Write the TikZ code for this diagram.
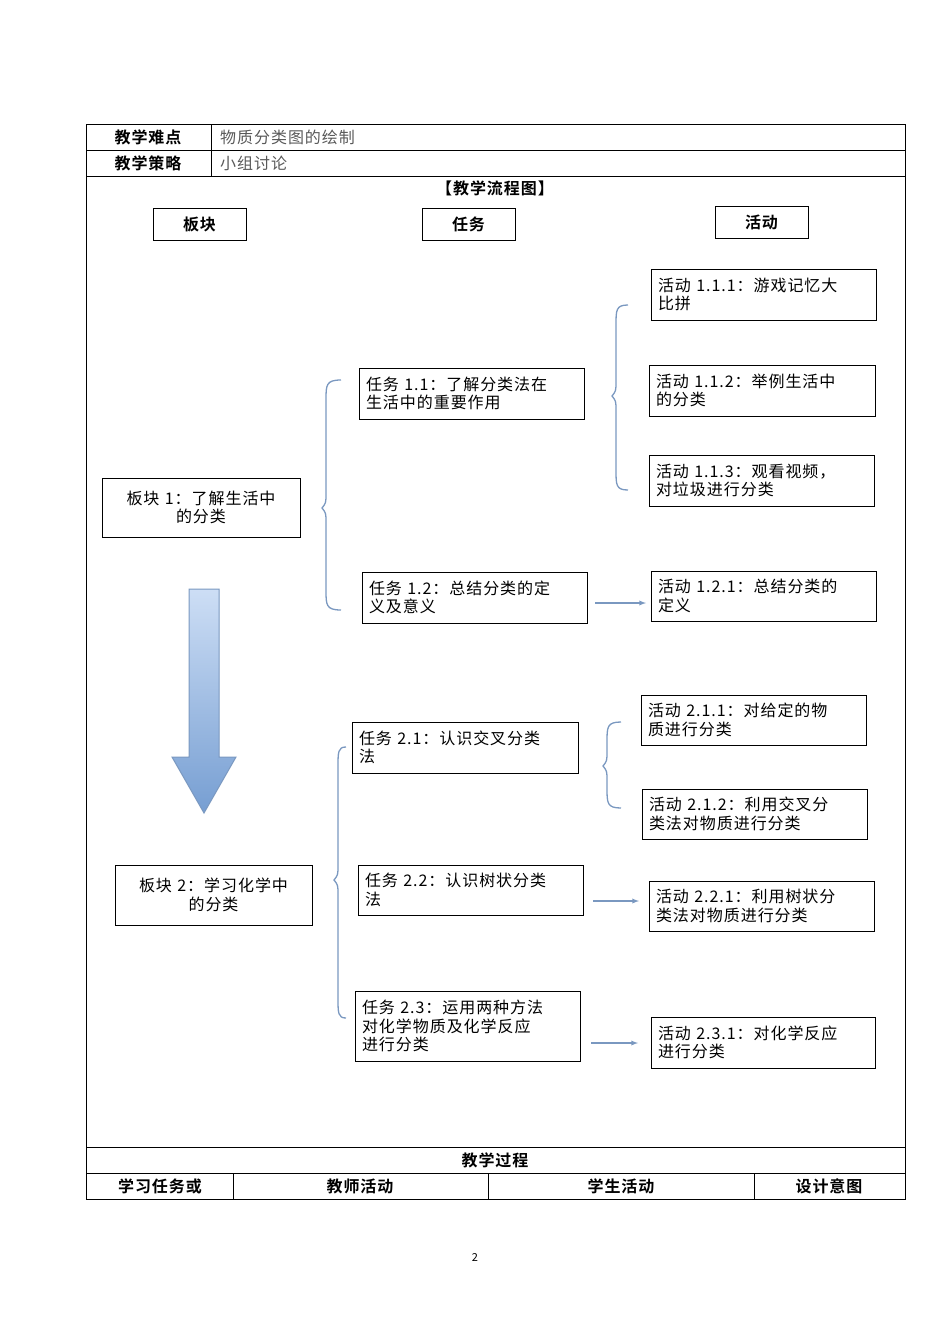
\documentclass[tikz,border=0pt]{standalone}
\usepackage{fontspec}
\setmainfont{Noto Sans CJK SC}[LetterSpace=6,BoldFont={Noto Sans CJK SC Bold}]
\definecolor{brc}{RGB}{122,152,192}
\definecolor{artop}{RGB}{205,222,245}
\definecolor{arbot}{RGB}{118,158,210}
\begin{document}
\begin{tikzpicture}[x=1pt,y=-1pt,
  bx/.style={draw,line width=0.9pt,inner xsep=7pt,inner ysep=3pt,align=left,font=\fontsize{16pt}{18.5pt}\selectfont},
  hd/.style={draw,line width=0.9pt,minimum width=93pt,minimum height=32pt,font=\fontsize{16pt}{18pt}\selectfont\bfseries},
  br/.style={draw=brc,line width=1.3pt},
  ar/.style={draw=brc,line width=1.3pt,-latex},
  tx/.style={font=\fontsize{16pt}{18pt}\selectfont,inner sep=0pt}]
\useasboundingbox (0,0) rectangle (950,1344);
% table
\draw[line width=0.8pt] (86,124) rectangle (905,1199);
\foreach \y in {150,176,1147,1173} \draw[line width=0.8pt] (86,\y)--(905,\y);
\draw[line width=0.8pt] (211,124)--(211,176);
\foreach \x in {233,488,754} \draw[line width=0.8pt] (\x,1173)--(\x,1199);
\node[tx,font=\fontsize{16pt}{18pt}\selectfont\bfseries] (r1a) at (148,137) {教学难点};
\node[tx,anchor=west,text=black!65] (r1b) at (220,137) {物质分类图的绘制};
\node[tx,font=\fontsize{16pt}{18pt}\selectfont\bfseries] (r2a) at (148,163) {教学策略};
\node[tx,anchor=west,text=black!65] (r2b) at (220,163) {小组讨论};
\node[tx,font=\fontsize{16pt}{18pt}\selectfont\bfseries] (title) at (495,188) {【教学流程图】};
\node[tx,font=\fontsize{16pt}{18pt}\selectfont\bfseries] (gc) at (495,1160) {教学过程};
\node[tx,font=\fontsize{16pt}{18pt}\selectfont\bfseries] (c1) at (160,1186) {学习任务或};
\node[tx,font=\fontsize{16pt}{18pt}\selectfont\bfseries] (c2) at (360,1186) {教师活动};
\node[tx,font=\fontsize{16pt}{18pt}\selectfont\bfseries] (c3) at (621,1186) {学生活动};
\node[tx,font=\fontsize{16pt}{18pt}\selectfont\bfseries] (c4) at (829,1186) {设计意图};
\node[tx] (pg) at (475,1257) {\fontsize{11pt}{12pt}\selectfont 2};
% headers
\node[hd] (h1) at (199.5,224.5) {板块};
\node[hd] (h2) at (468.5,224) {任务};
\node[hd] (h3) at (761.5,222) {活动};
\newcommand\bbox[6]{\node[bx,minimum width=#3pt,minimum height=#4pt,text width=#5pt] (#1) at (#2) {#6};}
\bbox{a111}{763.5,294.5}{225}{51}{211}{活动 1.1.1：游戏记忆大\\比拼}
\bbox{t11}{471.5,393.5}{225}{51}{211}{任务 1.1：了解分类法在\\生活中的重要作用}
\bbox{a112}{762,390.5}{226}{51}{212}{活动 1.1.2：举例生活中\\的分类}
\bbox{a113}{761.5,480.5}{225}{51}{211}{活动 1.1.3：观看视频，\\对垃圾进行分类}
\node[bx,minimum width=198pt,minimum height=59pt,text width=184pt,align=center] (b1) at (201,507.5) {板块 1：了解生活中\\的分类};
\bbox{t12}{474.5,597.5}{225}{51}{211}{任务 1.2：总结分类的定\\义及意义}
\bbox{a121}{763.5,596}{225}{50}{211}{活动 1.2.1：总结分类的\\定义}
\bbox{a211}{753.5,720}{225}{50}{211}{活动 2.1.1：对给定的物\\质进行分类}
\bbox{t21}{465,747.5}{226}{51}{212}{任务 2.1：认识交叉分类\\法}
\bbox{a212}{754.5,814}{225}{50}{211}{活动 2.1.2：利用交叉分\\类法对物质进行分类}
\node[bx,minimum width=197pt,minimum height=60pt,text width=183pt,align=center] (b2) at (213.5,895) {板块 2：学习化学中\\的分类};
\bbox{t22}{470.5,890}{225}{50}{211}{任务 2.2：认识树状分类\\法}
\bbox{a221}{761.5,906}{225}{50}{211}{活动 2.2.1：利用树状分\\类法对物质进行分类}
\bbox{t23}{467.5,1026}{225}{70}{211}{任务 2.3：运用两种方法\\对化学物质及化学反应\\进行分类}
\bbox{a231}{763,1042.5}{224}{51}{210}{活动 2.3.1：对化学反应\\进行分类}
% arrows
\coordinate (p1) at (595,603); \coordinate (q1) at (646,603);
\coordinate (p2) at (593,901); \coordinate (q2) at (639,901);
\coordinate (p3) at (591,1043); \coordinate (q3) at (638,1043);
\draw[ar] (p1) -- (q1);
\draw[ar] (p2) -- (q2);
\draw[ar] (p3) -- (q3);
% braces
\newcommand\mybrace[5]{\draw[br] (#2,#3) .. controls (#1+4,#3) and (#1+4,#3+5) .. (#1+4,#3+20) -- (#1+4,#4-15) .. controls (#1+4,#4-5) .. (#1,#4) .. controls (#1+4,#4+5) .. (#1+4,#4+15) -- (#1+4,#5-20) .. controls (#1+4,#5-5) and (#1+4,#5) .. (#2,#5);}
\mybrace{322}{341}{380}{508}{610}
\mybrace{612}{628}{305}{396}{490}
\mybrace{334}{346}{747}{880}{1018}
\mybrace{603}{621}{722}{766}{808}
% big arrow
\shade[top color=artop,bottom color=arbot,draw=brc,line width=1pt]
 (189,589) -- (219,589) -- (219,757) -- (236,757) -- (204,813) -- (172,757) -- (189,757) -- cycle;
\end{tikzpicture}
\end{document}
